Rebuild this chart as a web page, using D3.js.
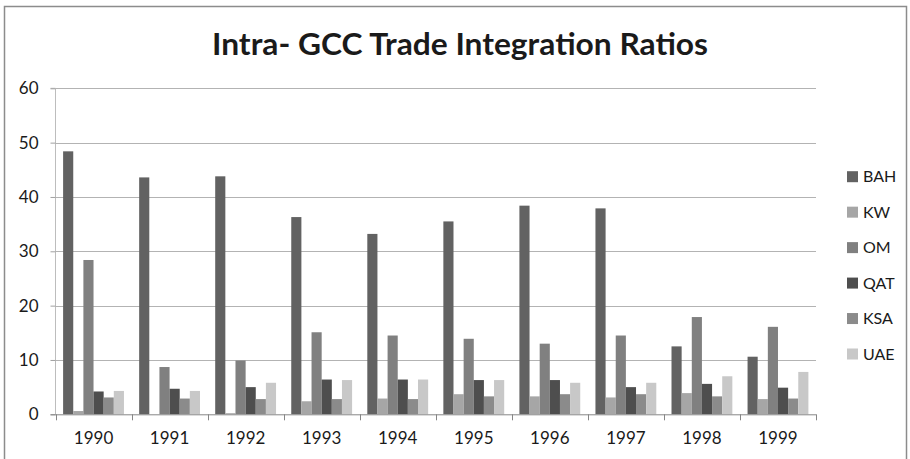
<!DOCTYPE html>
<html>
<head>
<meta charset="utf-8">
<script src="https://cdn.jsdelivr.net/npm/d3@7"></script>
<style>
  html, body { margin: 0; padding: 0; background: #ffffff; }
  svg { display: block; }
  text { font-family: Lato, "Open Sans", sans-serif; fill: #1a1a1a; }
</style>
</head>
<body>
<svg id="chart" width="910" height="459"></svg>
<script>
const years = ["1990","1991","1992","1993","1994","1995","1996","1997","1998","1999"];
const seriesNames = ["BAH","KW","OM","QAT","KSA","UAE"];
const BAH = [48.4, 43.6, 43.8, 36.3, 33.2, 35.5, 38.4, 37.9, 12.5, 10.6];
const KW  = [0.6, 0.0, 0.2, 2.4, 2.9, 3.7, 3.3, 3.1, 3.9, 2.8];
const OM  = [28.4, 8.7, 9.9, 15.1, 14.5, 13.9, 13.0, 14.5, 17.9, 16.1];
const QAT = [4.2, 4.7, 5.0, 6.4, 6.4, 6.3, 6.3, 5.0, 5.6, 4.9];
const KSA = [3.1, 2.9, 2.8, 2.8, 2.8, 3.3, 3.7, 3.7, 3.3, 2.9];
const UAE = [4.3, 4.3, 5.8, 6.3, 6.4, 6.3, 5.8, 5.8, 7.0, 7.8];
const yTicks = [0, 10, 20, 30, 40, 50, 60];
const title = "Intra- GCC Trade Integration Ratios";
const colors = ["#626262", "#a6a6a6", "#808080", "#4e4e4e", "#8b8b8b", "#c8c8c8"];

const seriesValues = [BAH, KW, OM, QAT, KSA, UAE];
const svg = d3.select("#chart");

// outer border
svg.append("rect")
  .attr("x", 4.5).attr("y", 6.5)
  .attr("width", 902).attr("height", 470)
  .attr("fill", "#ffffff")
  .attr("stroke", "#8c8c8c").attr("stroke-width", 1.5);

const pLeft = 55.5, pRight = 816, pTop = 88.3, pBottom = 414.3;

const x = d3.scaleBand().domain(years).range([pLeft, pRight]).paddingInner(0).paddingOuter(0);
const xs = d3.scaleBand().domain(seriesNames)
  .range([0, x.bandwidth()]).paddingInner(0).paddingOuter(0.75);
const y = d3.scaleLinear().domain([0, 60]).range([pBottom, pTop]);

// gridlines
svg.append("g")
  .selectAll("line")
  .data(yTicks.filter(d => d > 0))
  .join("line")
  .attr("x1", pLeft).attr("x2", pRight)
  .attr("y1", d => Math.round(y(d)) + 0.5).attr("y2", d => Math.round(y(d)) + 0.5)
  .attr("stroke", "#b3b3b3").attr("stroke-width", 1);

// y axis
const yAxis = d3.axisLeft(y).tickValues(yTicks).tickSize(5).tickPadding(12);
const gy = svg.append("g").attr("transform", `translate(${pLeft},0)`).call(yAxis);
gy.select(".domain").attr("stroke", "#bdbdbd").attr("d", `M-5,${pTop}H0V${pBottom}`);
gy.selectAll(".tick line").attr("stroke", "#a0a0a0");
gy.selectAll(".tick text")
  .style("font-family", "Lato, 'Open Sans', sans-serif")
  .style("font-size", "17px").attr("fill", "#1a1a1a");

// bars
const groups = svg.append("g")
  .selectAll("g")
  .data(years)
  .join("g")
  .attr("transform", d => `translate(${x(d)},0)`);

groups.selectAll("rect")
  .data((yr, i) => seriesNames.map((s, k) => ({ s, k, v: seriesValues[k][i] })))
  .join("rect")
  .attr("x", d => xs(d.s))
  .attr("width", xs.bandwidth())
  .attr("y", d => y(d.v))
  .attr("height", d => y(0) - y(d.v))
  .attr("fill", d => colors[d.k]);

// x axis
const xAxis = d3.axisBottom(x).tickSize(0).tickPadding(18);
const gx = svg.append("g").attr("transform", `translate(0,${pBottom})`).call(xAxis);
gx.select(".domain").attr("stroke", "#868686").attr("d", `M${pLeft - 5},0.5H${pRight}`);
gx.selectAll(".tick text")
  .style("font-family", "Lato, 'Open Sans', sans-serif")
  .style("font-size", "17px").attr("fill", "#1a1a1a");
// category boundary ticks
const bounds = years.map(d => x(d)).concat([x(years[years.length - 1]) + x.bandwidth()]);
gx.selectAll("line.bound")
  .data(bounds)
  .join("line")
  .attr("class", "bound")
  .attr("x1", d => Math.round(d) + 0.5).attr("x2", d => Math.round(d) + 0.5)
  .attr("y1", 0).attr("y2", 6)
  .attr("stroke", "#868686");

// title
svg.append("text")
  .attr("x", 460).attr("y", 54.5)
  .attr("text-anchor", "middle")
  .attr("textLength", 496)
  .attr("lengthAdjust", "spacingAndGlyphs")
  .style("font-family", "Lato, 'Open Sans', sans-serif")
  .style("font-weight", "bold")
  .style("font-size", "30px")
  .attr("fill", "#111111")
  .text(title);

// legend
const legend = svg.append("g")
  .selectAll("g")
  .data(seriesNames)
  .join("g")
  .attr("transform", (d, i) => `translate(847,${176.7 + i * 35.46})`);
legend.append("rect")
  .attr("x", 0).attr("y", -5.5)
  .attr("width", 11).attr("height", 11)
  .attr("fill", (d, i) => colors[i]);
legend.append("text")
  .attr("x", 16).attr("y", 0)
  .attr("dy", "0.36em")
  .style("font-size", "16px")
  .attr("fill", "#1a1a1a")
  .text(d => d);
</script>
</body>
</html>
